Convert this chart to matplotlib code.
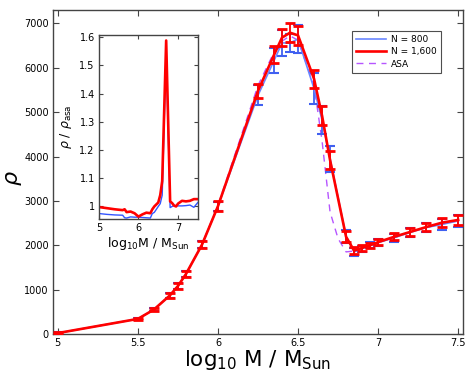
import numpy as np
import matplotlib
matplotlib.use("Agg")
import matplotlib.pyplot as plt
from matplotlib.lines import Line2D
from matplotlib.ticker import FormatStrFormatter

# main panel data (log10 M, rho)
logM = [5.0, 5.5, 5.6, 5.7, 5.75, 5.8, 5.9, 6.0, 6.25, 6.35, 6.4, 6.45, 6.5,
        6.6, 6.65, 6.7, 6.8, 6.85, 6.9, 6.95, 7.0, 7.1, 7.2, 7.3, 7.4, 7.5]
rho_800 = [20, 340, 550, 870, 1080, 1350, 2010, 2880, 5380, 6160, 6560, 6560, 6650,
           5530, 4820, 3950, 2200, 1850, 1920, 2000, 2060, 2170, 2290, 2400, 2470, 2550]
err_800 = [20, 30, 40, 50, 60, 70, 80, 100, 230, 280, 290, 200, 310,
           350, 310, 290, 150, 90, 70, 70, 80, 90, 100, 110, 130, 130]
rho_1600 = [20, 340, 550, 870, 1080, 1350, 2010, 2880, 5480, 6290, 6680, 6790, 6730,
            5750, 4920, 3920, 2190, 1880, 1940, 2000, 2070, 2190, 2300, 2410, 2510, 2570]
err_1600 = [20, 30, 40, 50, 60, 70, 80, 110, 150, 190, 200, 210, 220,
            210, 210, 210, 120, 80, 70, 60, 70, 80, 90, 100, 110, 120]

logM_asa = [5.0, 5.5, 5.6, 5.7, 5.75, 5.8, 5.9, 6.0, 6.25, 6.35, 6.4, 6.45, 6.5,
            6.6, 6.65, 6.7, 6.75, 6.8, 6.85, 6.9, 6.95, 7.0, 7.1, 7.2, 7.3, 7.4, 7.5]
rho_asa = [20, 340, 550, 870, 1080, 1350, 2010, 2900, 5600, 6350, 6600, 6720, 6620,
           5600, 4350, 2750, 2150, 1850, 1870, 1930, 1990, 2060, 2170, 2290, 2400, 2480, 2550]

# inset data (ratio to asa)
logM_in = [5.0, 5.2, 5.4, 5.6, 5.65, 5.7, 5.8, 5.9, 6.0, 6.1, 6.2, 6.3, 6.35, 6.4,
           6.5, 6.55, 6.6, 6.7, 6.8, 6.85, 6.9, 6.95, 7.0, 7.1, 7.2, 7.3, 7.4, 7.5]
ratio_1600 = [0.998, 0.994, 0.99, 0.987, 0.99, 0.98, 0.982, 0.976, 0.964, 0.972, 0.978,
              0.976, 0.99, 1.0, 1.014, 1.04, 1.09, 1.588, 1.018, 1.012, 1.003, 1.0,
              1.01, 1.02, 1.018, 1.02, 1.026, 1.026]
ratio_800 = [0.975, 0.972, 0.97, 0.969, 0.96, 0.959, 0.963, 0.962, 0.962, 0.961, 0.96,
             0.959, 0.975, 0.979, 1.0, 1.01, 1.04, 1.55, 0.996, 1.0, 1.004, 1.003,
             1.002, 1.002, 1.003, 1.005, 0.997, 1.014]

c_blue = "#6a86ff"
c_blue_err = "#4060f0"
c_red = "#ff0000"
c_asa = "#b655ff"
frame = "#444444"

fig = plt.figure(figsize=(4.71, 3.74), dpi=100)
ax = fig.add_axes([0.1125, 0.107, 0.8705, 0.866])

ax.errorbar(logM, rho_800, yerr=err_800, color=c_blue, ecolor=c_blue_err, lw=1.2,
            elinewidth=1.3, capsize=3.4, capthick=1.5, zorder=2)
ax.errorbar(logM, rho_1600, yerr=err_1600, color=c_red, ecolor=c_red, lw=1.9,
            elinewidth=1.3, capsize=3.4, capthick=2, zorder=3)
ax.plot(logM_asa, rho_asa, color=c_asa, lw=1.0, ls=(0, (5, 4)), zorder=1)

ax.set_xlim(4.97, 7.53)
ax.set_ylim(0, 7300)
ax.set_xticks([5, 5.5, 6, 6.5, 7, 7.5])
ax.xaxis.set_major_formatter(FormatStrFormatter("%g"))
ax.set_yticks(range(0, 7001, 1000))
ax.tick_params(direction="in", top=True, right=True, labelsize=7, length=4,
               color=frame, width=0.8, pad=3)
for s in ax.spines.values():
    s.set_color(frame)
    s.set_linewidth(1.0)
ax.set_xlabel(r"log$_{10}$ M / M$_{\rm Sun}$", fontsize=15.5)
ax.xaxis.set_label_coords(0.5, -0.042)
ax.set_ylabel(r"$\rho$", fontsize=16)
ax.yaxis.set_label_coords(-0.07, 0.48)

handles = [Line2D([], [], color=c_blue, lw=1.2),
           Line2D([], [], color=c_red, lw=1.9),
           Line2D([], [], color=c_asa, lw=1.0, ls=(0, (5, 4)))]
leg = ax.legend(handles, ["N = 800", "N = 1,600", "ASA"], loc="upper right",
                bbox_to_anchor=(0.946, 0.935), fontsize=6.5, frameon=True,
                fancybox=False, handlelength=3.3, borderpad=0.45,
                labelspacing=0.35, handletextpad=0.6, borderaxespad=0)
leg.get_frame().set_edgecolor("#222222")
leg.get_frame().set_linewidth(0.8)

# inset
axi = fig.add_axes([0.210, 0.414, 0.210, 0.492])
axi.plot(logM_in, ratio_800, color="#3355ff", lw=1.0)
axi.plot(logM_in, ratio_1600, color=c_red, lw=1.9)
axi.set_xlim(5, 7.5)
axi.set_ylim(0.955, 1.607)
axi.set_xticks([5, 6, 7])
axi.set_yticks([1, 1.1, 1.2, 1.3, 1.4, 1.5, 1.6])
axi.yaxis.set_major_formatter(FormatStrFormatter("%g"))
axi.tick_params(direction="in", top=True, right=True, labelsize=7, length=3,
                color=frame, width=0.8, pad=3)
for s in axi.spines.values():
    s.set_color(frame)
    s.set_linewidth(1.0)
axi.set_xlabel(r"log$_{10}$M / M$_{\rm Sun}$", fontsize=9, labelpad=1)
axi.set_ylabel(r"$\rho$ / $\rho_{\rm asa}$", fontsize=9, labelpad=4)

fig.savefig("out.png", dpi=100)
